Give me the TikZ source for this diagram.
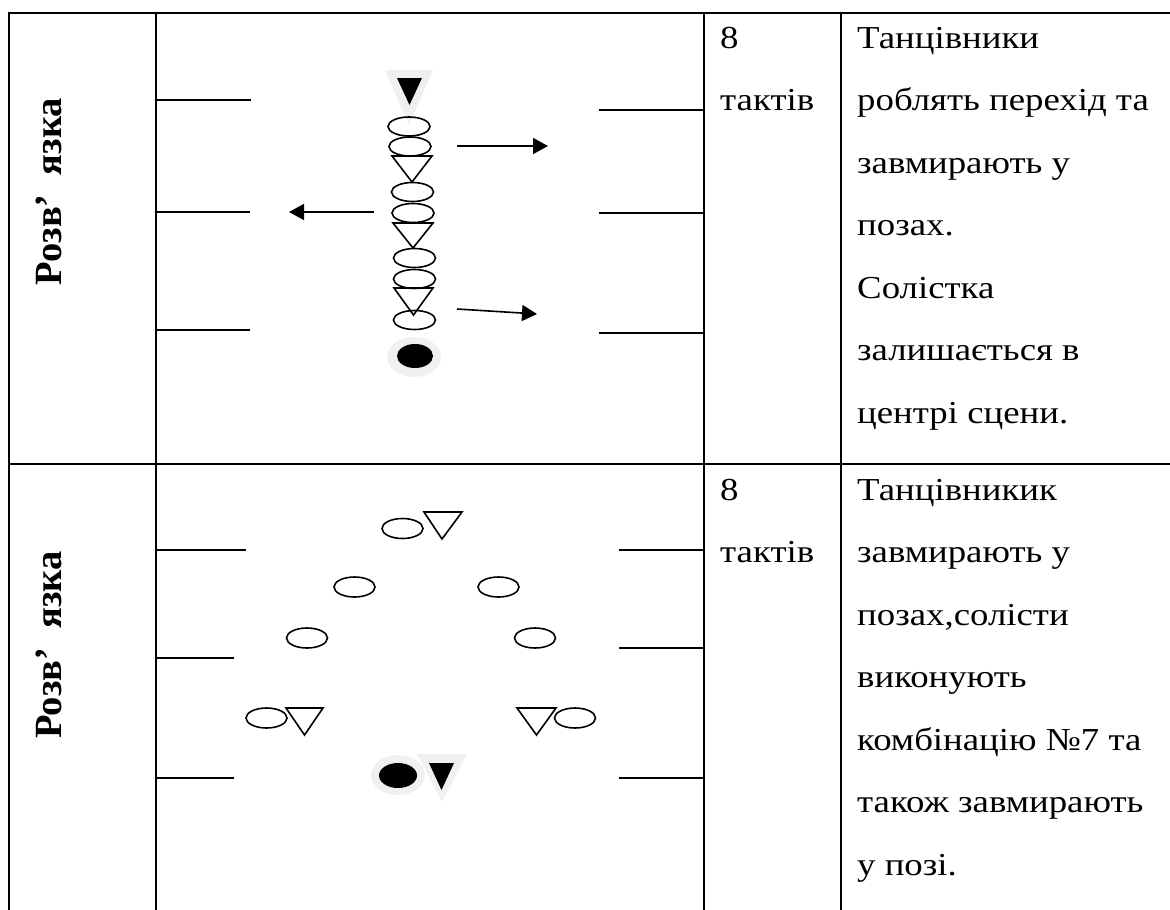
\documentclass[tikz,border=0pt]{standalone}
\usepackage{fontspec}
\setmainfont{Liberation Serif}[FakeStretch=1.15]
\newfontfamily\sidefont{Liberation Serif}
\usetikzlibrary{arrows.meta}

\tikzset{
  tbl/.style={line width=2.6pt},
  stg/.style={line width=1.8pt},
  fig/.style={line width=1.6pt},
  halo/.style={fill=gray!12},
  arr/.style={line width=1.6pt,-{Triangle[length=15pt,width=16pt]}},
  cell/.style={anchor=base west,align=left,inner sep=0pt,font=\fontsize{32}{62.5}\selectfont},
  side/.style={rotate=90,anchor=base,inner sep=0pt,font=\sidefont\bfseries\fontsize{38.5}{46}\selectfont}
}

\begin{document}
\begin{tikzpicture}[x=1pt,y=-1pt]
   \useasboundingbox (0,0) rectangle (1170,910);

   % table
   \draw[tbl] (9,910) -- (9,13) -- (1170,13);
   \draw[tbl] (9,464) -- (1170,464);
   \draw[tbl] (156,13) -- (156,910);
   \draw[tbl] (704,13) -- (704,910);
   \draw[tbl] (841,13) -- (841,910);

   \node[side] (name1) at (61,191.5) {Розв’\ \ язка};
   \node[side] (name2) at (61,645) {Розв’\ \ язка};

   % base of a cell = baseline of its last line
   \node[cell] (bars1) at (720,110.5) {8\\тактів};
   \node[cell] (bars2) at (720,562.5) {8\\тактів};
   \node[cell] (desc1) at (857,423) {Танцівники\\роблять перехід та\\завмирають у\\позах.\\Солістка\\залишається в\\центрі сцени.};
   \node[cell] (desc2) at (857,875) {Танцівникик\\завмирають у\\позах,солісти\\виконують\\комбінацію №7 та\\також завмирають\\у позі.};

   % stage wings, first scheme
   \draw[stg] (156,100) -- (251,100);
   \draw[stg] (156,212) -- (250,212);
   \draw[stg] (156,330) -- (250,330);
   \draw[stg] (599,110) -- (703,110);
   \draw[stg] (599,213) -- (703,213);
   \draw[stg] (599,333) -- (703,333);

   \fill[halo] (385,70) -- (433,70) -- (409,125) -- cycle;
   \fill (397,78) -- (422,78) -- (409.5,105) -- cycle;
   \foreach \x/\y in {409/126.5, 410/146.5, 412.5/192, 413/213, 414.5/258, 414.5/279, 414.5/320}
     \draw[fig] (\x,\y) ellipse [x radius=21,y radius=9.5];
   \draw[fig] (392,156) -- (432,156) -- (412,182) -- cycle;
   \draw[fig] (393,223) -- (433,223) -- (413,248) -- cycle;
   \draw[fig] (394,288) -- (433,288) -- (413.5,315) -- cycle;
   \fill[halo] (414,357) ellipse [x radius=27,y radius=20];
   \fill (415,356) ellipse [x radius=18,y radius=12];

   \coordinate (go1a) at (457,146);
   \coordinate (go1b) at (548,146);
   \coordinate (go2a) at (374,212);
   \coordinate (go2b) at (289,212);
   \coordinate (go3a) at (457,309);
   \coordinate (go3b) at (537,314);
   \draw[arr] (go1a) -- (go1b);
   \draw[arr] (go2a) -- (go2b);
   \draw[arr] (go3a) -- (go3b);

   % stage wings, second scheme
   \draw[stg] (156,550) -- (246,550);
   \draw[stg] (156,658) -- (234,658);
   \draw[stg] (156,778) -- (234,778);
   \draw[stg] (619,550) -- (703,550);
   \draw[stg] (619,648) -- (703,648);
   \draw[stg] (619,778) -- (703,778);

   \foreach \x/\y in {402.5/528.5, 354.5/587, 498.5/587, 307/638, 535/638, 266.5/718, 575/718}
     \draw[fig] (\x,\y) ellipse [x radius=20.5,y radius=10];
   \draw[fig] (424,512) -- (462,512) -- (442,539) -- cycle;
   \draw[fig] (286,708) -- (323,708) -- (304.5,735) -- cycle;
   \draw[fig] (517,708) -- (556,708) -- (536.5,735) -- cycle;

   \fill[halo] (398,775) ellipse [x radius=27,y radius=20];
   \fill (398,775.5) ellipse [x radius=19,y radius=12.5];
   \fill[halo] (417,754) -- (467,754) -- (442,802) -- cycle;
   \fill (429,763) -- (454,763) -- (441.5,790) -- cycle;
\end{tikzpicture}
\end{document}
